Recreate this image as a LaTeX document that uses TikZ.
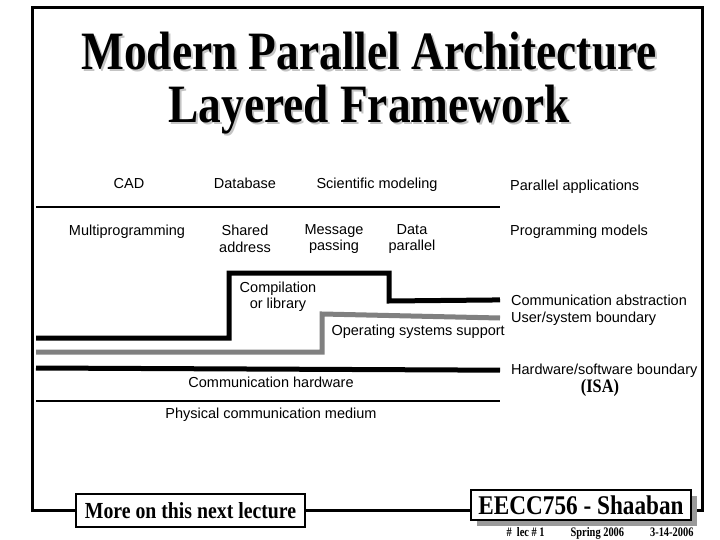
\documentclass[tikz,border=0pt]{standalone}
\usepackage{fontspec}
\setmainfont{Liberation Serif}
\setsansfont{Liberation Sans}
\newfontfamily\slidefont[FakeStretch=0.8]{Liberation Serif}
\newfontfamily\titlefont[FakeStretch=0.84]{Liberation Serif}
\newfontfamily\boxfont[FakeStretch=0.86]{Liberation Serif}
\usetikzlibrary{positioning,shadows,backgrounds}
\definecolor{layergray}{HTML}{808080}
\definecolor{shadowgray}{HTML}{9A9A9A}
\definecolor{titleshade}{HTML}{C4C4C4}
% text with a light shadow behind it
\newcommand{\shadetext}[1]{\leavevmode\rlap{\hspace{2pt}\raisebox{-2pt}[0pt][0pt]{\color{titleshade}#1}}#1}

\begin{document}
\begin{tikzpicture}[
    x=1pt, y=-1pt,
    lbl/.style={font=\sffamily\fontsize{14.5}{16.5}\selectfont, inner sep=0pt,
      align=center},
    ttl/.style={font=\titlefont\bfseries\fontsize{54}{54}\selectfont,
      inner sep=0pt, anchor=base},
    footbox/.style={draw, line width=2.5pt, fill=white, inner sep=0pt},
    frameline/.style={draw, line width=3pt},
    layer/.style={line width=5pt, shorten >=11pt},
    thinline/.style={line width=1.2pt}
  ]
    \useasboundingbox (0,0) rectangle (720,540);

    % title
    \node[ttl] (t1) at (369,70) {\shadetext{Modern Parallel Architecture}};
    \node[ttl] (t2) at (369,123) {\shadetext{Layered Framework}};

    % applications and programming models
    \node[lbl, anchor=base] (cad) at (129,189) {CAD};
    \node[lbl, anchor=base] (db) at (245,189) {Database};
    \node[lbl, anchor=base] (sci) at (377,189) {Scientific modeling};
    \node[lbl, anchor=base west] (papps) at (510,191) {Parallel applications};
    \node[lbl, anchor=base] (multi) at (127,236) {Multiprogramming};
    \node[lbl] (shared) at (245,239) {Shared\\address};
    \node[lbl] (msg) at (334,239) {Message\\passing};
    \node[lbl] (data) at (412,239) {Data\\parallel};
    \node[lbl, anchor=base west] (progm) at (510,236) {Programming models};

    % layers
    \node[lbl] (comp) at (278,297) {Compilation\\or library};
    \node[lbl, anchor=base west] (commabs) at (511,305) {Communication abstraction};
    \node[lbl, anchor=base west] (usersys) at (511,322) {User/system boundary};
    \node[lbl, anchor=base east] (ossup) at (505,335) {Operating systems support};
    \node[lbl, anchor=base] (commhw) at (271,387) {Communication hardware};
    \node[lbl, anchor=base west] (hwsw) at (511,374) {Hardware/software boundary};
    \node[font=\boxfont\bfseries\fontsize{19}{19}\selectfont, inner sep=0pt,
          anchor=base] (isa) at (600,392) {(ISA)};
    \node[lbl, anchor=base] (phys) at (271,418) {Physical communication medium};

    \draw[thinline] (36,207) -- (500,207);
    \draw[layer] (36,338) -- (229,338) -- (229,273) -- (389,273) -- (389,301)
      -- (commabs.west);
    \draw[layer, layergray] (36,352) -- (322,352) -- (322,314) -- (usersys.west);
    \draw[layer] (36,368) -- (hwsw.west);
    \draw[thinline] (36,401) -- (500,401);

    % bottom boxes
    \node[footbox, minimum width=229pt, minimum height=33pt,
          font=\boxfont\bfseries\fontsize{23}{23}\selectfont]
      (more) at (190.5,510.5) {More on this next lecture};
    \node[footbox, minimum width=220pt, minimum height=30pt,
          font=\boxfont\bfseries\fontsize{27}{27}\selectfont,
          drop shadow={shadow xshift=6pt, shadow yshift=-6pt, fill=shadowgray,
            opacity=1}]
      (eecc) at (581,505) {EECC756 - Shaaban};
    \node[font=\slidefont\bfseries\fontsize{13}{13}\selectfont, inner sep=0pt]
      (foot) at (600,533) {\#\ \ lec \# 1\qquad Spring 2006\qquad 3-14-2006};

    \begin{scope}[on background layer]
      \fill[white] (0,0) rectangle (720,540);
      \coordinate (ftl) at (32,8);
      \coordinate (ftr) at (702,8);
      \draw[frameline] (more.west) -| (ftl) -| (ftr |- more.west)
        -- (eecc.east |- more.west);
      \draw[frameline] (more.east) -- (eecc.west |- more.east);
    \end{scope}
\end{tikzpicture}
\end{document}
